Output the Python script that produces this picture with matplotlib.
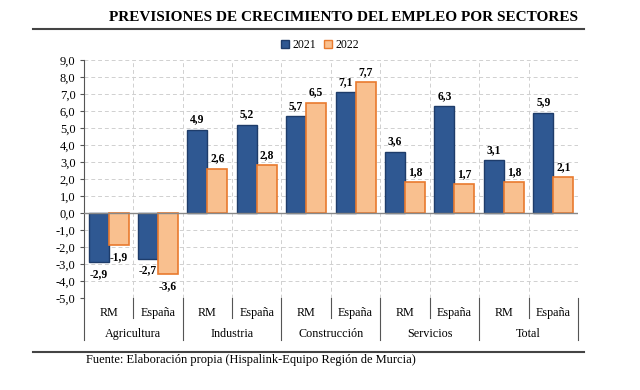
import numpy as np
import matplotlib.pyplot as plt
from matplotlib.lines import Line2D
from matplotlib.patches import Patch

# data
groups = ['Agricultura', 'Industria', 'Construcción', 'Servicios', 'Total']
areas = ['RM', 'España']
v2021 = [-2.9, -2.7, 4.9, 5.2, 5.7, 7.1, 3.6, 6.3, 3.1, 5.9]
v2022 = [-1.9, -3.6, 2.6, 2.8, 6.5, 7.7, 1.8, 1.7, 1.8, 2.1]

plt.rcParams['font.family'] = ['Liberation Serif', 'DejaVu Serif']

blue, blue_edge = '#2F5892', '#1E3C6A'
orange, orange_edge = '#F9C08F', '#E97A2E'

fig = plt.figure(figsize=(6.4, 3.9), dpi=100)
ax = fig.add_axes([0.131, 0.236, 0.772, 0.61])

n = len(v2021)
x = np.arange(n)
w = 0.405
b1 = ax.bar(x - w / 2, v2021, w, color=blue, edgecolor=blue_edge, linewidth=1, zorder=3)
b2 = ax.bar(x + w / 2, v2022, w, color=orange, edgecolor=orange_edge, linewidth=1.2, zorder=3)

def fmt(v):
    return ('%.1f' % v).replace('.', ',')

for bars in (b1, b2):
    for r in bars:
        h = r.get_height()
        cx = r.get_x() + r.get_width() / 2
        if h >= 0:
            ax.annotate(fmt(h), (cx, h), xytext=(0, 3), textcoords='offset points',
                        ha='center', va='bottom', fontsize=8.3, fontweight='bold')
        else:
            ax.annotate(fmt(h), (cx, h), xytext=(0, -4), textcoords='offset points',
                        ha='center', va='top', fontsize=8.3, fontweight='bold')

ax.set_xlim(-0.5, n - 0.5)
ax.set_ylim(-5, 9)
ax.set_yticks(np.arange(-5, 10, 1))
ax.set_yticklabels([fmt(t) for t in np.arange(-5, 10, 1)], fontsize=9)
ax.set_xticks([])
for s in ['top', 'right', 'bottom']:
    ax.spines[s].set_visible(False)
ax.spines['left'].set_color('#555555')
ax.tick_params(axis='y', length=3, color='#555555', pad=3)

for yv in range(-5, 10):
    ax.axhline(yv, color='#d0d0d0', linestyle=(0, (4, 3)), linewidth=0.7, zorder=1)
for k in range(1, n + 1):
    ax.axvline(k - 0.5, color='#d0d0d0', linestyle=(0, (4, 3)), linewidth=0.7, zorder=1)
ax.axhline(0, color='#888888', linewidth=1, zorder=4)

# category axis below the plot
trans = ax.get_xaxis_transform()
for k in range(n + 1):
    depth = -0.176 if k % 2 == 0 else -0.084
    ax.plot([k - 0.5, k - 0.5], [0, depth], transform=trans, color='#555555',
            linewidth=0.8, clip_on=False)
for i in range(n):
    ax.text(i, -0.065, areas[i % 2], transform=trans, ha='center', va='center', fontsize=8.7)
for g, name in enumerate(groups):
    ax.text(2 * g + 0.5, -0.15, name, transform=trans, ha='center', va='center', fontsize=8.7)

# title, rules, legend and source
fig.text(0.536, 0.955, 'PREVISIONES DE CRECIMIENTO DEL EMPLEO POR SECTORES',
         ha='center', va='center', fontsize=11, fontweight='bold')
fig.add_artist(Line2D([0.052, 0.912], [0.925, 0.925], color='#444444', linewidth=1.5))
fig.add_artist(Line2D([0.052, 0.912], [0.097, 0.097], color='#444444', linewidth=1.5))
fig.text(0.134, 0.077, 'Fuente: Elaboración propia (Hispalink-Equipo Región de Murcia)',
         ha='left', va='center', fontsize=9)

handles = [Patch(facecolor=blue, edgecolor=blue_edge, label='2021'),
           Patch(facecolor=orange, edgecolor=orange_edge, label='2022')]
fig.legend(handles=handles, loc='center', bbox_to_anchor=(0.5, 0.885), ncol=2,
           frameon=False, fontsize=8.5, handlelength=0.7, handleheight=0.7,
           handletextpad=0.3, columnspacing=0.6)

fig.savefig('out.png', dpi=100)
